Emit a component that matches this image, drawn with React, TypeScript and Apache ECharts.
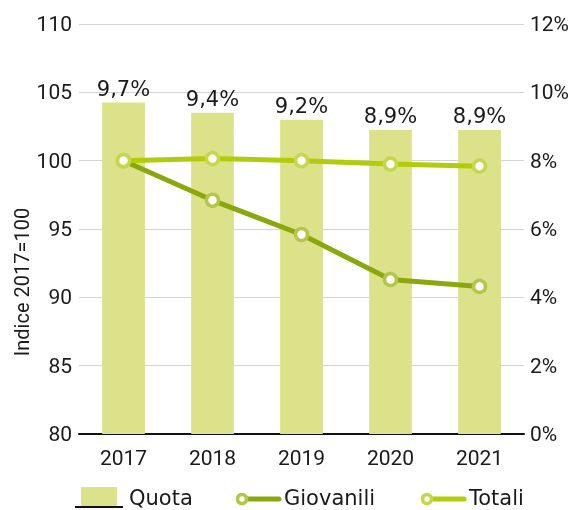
import React, { useEffect, useRef } from "react";
import * as echarts from "echarts";

const categories = ["2017", "2018", "2019", "2020", "2021"];
const quota = [9.7, 9.4, 9.2, 8.9, 8.9];
const giovanili = [100, 97.1, 94.6, 91.3, 90.8];
const totali = [100, 100.15, 100, 99.75, 99.6];
const leftTicks = { min: 80, max: 110, interval: 5 };
const rightTicks = { min: 0, max: 12, interval: 2 };

const FONT = "Roboto";
const FONT2 = "DejaVu Sans";
const TXT = "#1a1a1a";
const BAR = "#dbe289";
const GIO = "#8aa80e";
const GIO_RING = "#b4c54a";
const TOT = "#b2cc0c";
const TOT_RING = "#c5d84c";

export default function App() {
  const ref = useRef<HTMLDivElement>(null);
  useEffect(() => {
    if (!ref.current) return;
    const chart = echarts.init(ref.current, null, { renderer: "svg" });
    const fmt = (v: number) => v.toFixed(1).replace(".", ",") + "%";
    chart.setOption({
      animation: false,
      textStyle: { fontFamily: FONT },
      grid: { left: 79, right: 47, top: 24, bottom: 76, containLabel: false },
      xAxis: {
        type: "category",
        data: categories,
        axisLine: { lineStyle: { color: "#111", width: 2 } },
        axisTick: { show: false },
        axisLabel: { color: TXT, fontSize: 21, fontFamily: FONT, margin: 13 },
      },
      yAxis: [
        {
          type: "value",
          ...leftTicks,
          position: "left",
          axisLine: { show: false },
          axisTick: { show: false },
          splitLine: { lineStyle: { color: "#d4d4d4", width: 1.2 } },
          axisLabel: { color: TXT, fontSize: 21, fontFamily: FONT, margin: 7 },
        },
        {
          type: "value",
          ...rightTicks,
          position: "right",
          axisLine: { show: false },
          axisTick: { show: false },
          splitLine: { show: false },
          axisLabel: {
            color: TXT,
            fontSize: 21,
            fontFamily: FONT,
            margin: 6,
            formatter: (v: number) => v + "%",
          },
        },
      ],
      series: [
        {
          name: "Quota",
          type: "bar",
          yAxisIndex: 1,
          data: quota,
          barWidth: "48%",
          itemStyle: { color: BAR },
          label: {
            show: true,
            position: "top",
            distance: 3,
            color: TXT,
            fontSize: 21,
            fontFamily: FONT2,
            formatter: (p: any) => fmt(p.value),
          },
          z: 1,
        },
        {
          name: "Giovanili",
          type: "line",
          yAxisIndex: 0,
          data: giovanili,
          symbol: "circle",
          symbolSize: 12,
          lineStyle: { color: GIO, width: 5 },
          itemStyle: { color: "#ffffff", borderColor: GIO_RING, borderWidth: 3.5 },
          z: 3,
        },
        {
          name: "Totali",
          type: "line",
          yAxisIndex: 0,
          data: totali,
          symbol: "circle",
          symbolSize: 12,
          lineStyle: { color: TOT, width: 5 },
          itemStyle: { color: "#ffffff", borderColor: TOT_RING, borderWidth: 3.5 },
          z: 4,
        },
      ],
      graphic: [
        {
          type: "text",
          x: 22,
          y: 282,
          rotation: Math.PI / 2,
          style: {
            text: "Indice 2017=100",
            fill: TXT,
            font: `20px ${FONT}`,
            align: "center",
            verticalAlign: "middle",
          },
        },
        // legend: Quota
        { type: "rect", shape: { x: 81, y: 487, width: 36, height: 19 }, style: { fill: BAR } },
        { type: "line", shape: { x1: 75, y1: 507, x2: 123, y2: 507 }, style: { stroke: "#111", lineWidth: 2 } },
        {
          type: "text",
          x: 129,
          y: 498,
          style: { text: "Quota", fill: TXT, font: `21px '${FONT2}'`, verticalAlign: "middle" },
        },
        // legend: Giovanili
        { type: "line", shape: { x1: 243, y1: 499, x2: 279, y2: 499 }, style: { stroke: GIO, lineWidth: 5, lineCap: "round" } },
        { type: "circle", shape: { cx: 242, cy: 499, r: 4.5 }, style: { fill: "#fff", stroke: GIO_RING, lineWidth: 3.5 } },
        {
          type: "text",
          x: 284,
          y: 498,
          style: { text: "Giovanili", fill: TXT, font: `21px '${FONT2}'`, verticalAlign: "middle" },
        },
        // legend: Totali
        { type: "line", shape: { x1: 428, y1: 499, x2: 464, y2: 499 }, style: { stroke: TOT, lineWidth: 5, lineCap: "round" } },
        { type: "circle", shape: { cx: 427, cy: 499, r: 4.5 }, style: { fill: "#fff", stroke: TOT_RING, lineWidth: 3.5 } },
        {
          type: "text",
          x: 469,
          y: 498,
          style: { text: "Totali", fill: TXT, font: `21px '${FONT2}'`, verticalAlign: "middle" },
        },
      ],
    });
    return () => chart.dispose();
  }, []);
  return (
    <div
      ref={ref}
      style={{ position: "fixed", left: 0, top: 0, width: 572, height: 510 }}
    />
  );
}
